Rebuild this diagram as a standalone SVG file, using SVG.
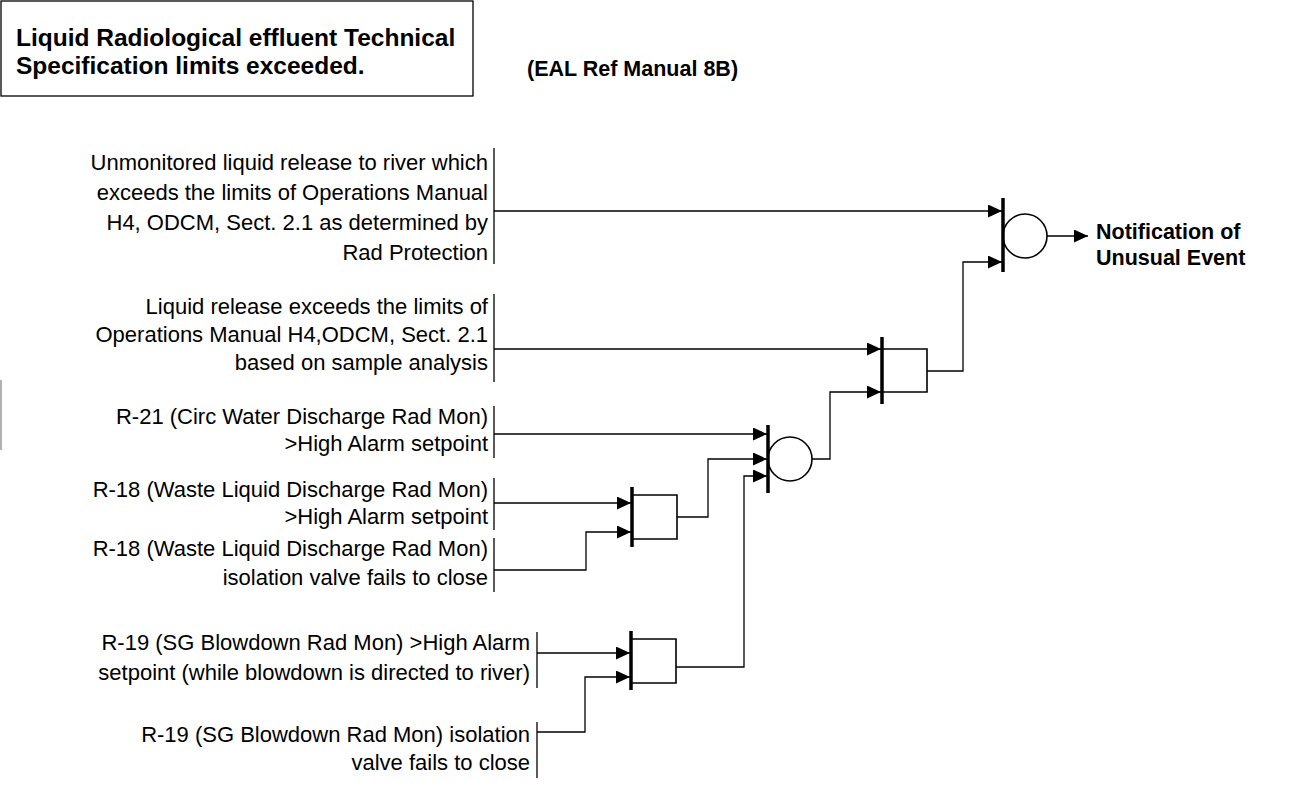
<svg xmlns="http://www.w3.org/2000/svg" width="1299" height="792" viewBox="0 0 1299 792">
<defs>
<style>
text{font-family:"Liberation Sans",Arial,sans-serif;fill:#000}
.t{font-size:22px;text-anchor:end}
.b{font-size:21.5px;font-weight:bold}
.h{font-size:24.5px;font-weight:bold}
.ln{fill:none;stroke:#000;stroke-width:1.3}
.bar{stroke:#000;stroke-width:3.5}
.g{fill:none;stroke:#000;stroke-width:1.6}
.ah{fill:#000}
</style>
<marker id="arr" markerWidth="15" markerHeight="13" refX="14" refY="6.5" orient="auto" markerUnits="userSpaceOnUse"><path d="M0,0 L14,6.5 L0,13 Z" class="ah"/></marker>
</defs>
<rect width="1299" height="792" fill="#fff"/>
<g id="title">
<rect x="1" y="1" width="472" height="95" class="ln"/>
<text class="h" x="16" y="46">Liquid Radiological effluent Technical</text>
<text class="h" x="16" y="74">Specification limits exceeded.</text>
</g>
<g id="ref"><text class="b" x="527" y="76">(EAL Ref Manual 8B)</text></g>
<line x1="1" y1="380" x2="1" y2="450" stroke="#999" stroke-width="1.5"/>
<g id="in1">
<text class="t" x="488" y="170">Unmonitored liquid release to river which</text>
<text class="t" x="488" y="200">exceeds the limits of Operations Manual</text>
<text class="t" x="488" y="230">H4, ODCM, Sect. 2.1 as determined by</text>
<text class="t" x="488" y="260">Rad Protection</text>
<line x1="494" y1="148" x2="494" y2="264" class="ln"/>
</g>
<g id="in2">
<text class="t" x="488" y="314">Liquid release exceeds the limits of</text>
<text class="t" x="488" y="342">Operations Manual H4,ODCM, Sect. 2.1</text>
<text class="t" x="488" y="370">based on sample analysis</text>
<line x1="494" y1="294" x2="494" y2="382" class="ln"/>
</g>
<g id="in3">
<text class="t" x="488" y="424">R-21 (Circ Water Discharge Rad Mon)</text>
<text class="t" x="488" y="451">&gt;High Alarm setpoint</text>
<line x1="494" y1="406" x2="494" y2="458" class="ln"/>
</g>
<g id="in4">
<text class="t" x="488" y="497">R-18 (Waste Liquid Discharge Rad Mon)</text>
<text class="t" x="488" y="524">&gt;High Alarm setpoint</text>
<line x1="494" y1="478" x2="494" y2="530" class="ln"/>
</g>
<g id="in5">
<text class="t" x="488" y="556">R-18 (Waste Liquid Discharge Rad Mon)</text>
<text class="t" x="488" y="585">isolation valve fails to close</text>
<line x1="494" y1="538" x2="494" y2="592" class="ln"/>
</g>
<g id="in6">
<text class="t" x="530" y="650">R-19 (SG Blowdown Rad Mon) &gt;High Alarm</text>
<text class="t" x="530" y="680">setpoint (while blowdown is directed to river)</text>
<line x1="537" y1="632" x2="537" y2="688" class="ln"/>
</g>
<g id="in7">
<text class="t" x="530" y="742">R-19 (SG Blowdown Rad Mon) isolation</text>
<text class="t" x="530" y="770">valve fails to close</text>
<line x1="537" y1="722" x2="537" y2="778" class="ln"/>
</g>
<g id="or-final">
<line x1="1003" y1="198" x2="1003" y2="272" class="bar"/>
<circle cx="1025" cy="236" r="22" class="g"/>
</g>
<g id="and2">
<line x1="882" y1="337" x2="882" y2="404" class="bar"/>
<path d="M882,349 H927 V392 H882" class="g"/>
</g>
<g id="or1">
<line x1="768" y1="425" x2="768" y2="493" class="bar"/>
<circle cx="790" cy="459" r="22" class="g"/>
</g>
<g id="and3">
<line x1="632" y1="487" x2="632" y2="547" class="bar"/>
<path d="M632,495 H677 V539 H632" class="g"/>
</g>
<g id="and4">
<line x1="631" y1="631" x2="631" y2="690" class="bar"/>
<path d="M631,639 H676 V683 H631" class="g"/>
</g>
<g id="out">
<text class="b" x="1096" y="239">Notification of</text>
<text class="b" x="1096" y="265">Unusual Event</text>
</g>
<g id="connectors">
<polyline points="494,211 1002,211" class="ln" marker-end="url(#arr)"/>
<polyline points="927,371 963,371 963,262 1002,262" class="ln" marker-end="url(#arr)"/>
<polyline points="1047,236 1088,236" class="ln" marker-end="url(#arr)"/>
<polyline points="494,349 881,349" class="ln" marker-end="url(#arr)"/>
<polyline points="812,459 830,459 830,392 881,392" class="ln" marker-end="url(#arr)"/>
<polyline points="494,434 767,434" class="ln" marker-end="url(#arr)"/>
<polyline points="677,517 708,517 708,459 767,459" class="ln" marker-end="url(#arr)"/>
<polyline points="676,667 744,667 744,476 767,476" class="ln" marker-end="url(#arr)"/>
<polyline points="494,503 631,503" class="ln" marker-end="url(#arr)"/>
<polyline points="494,570 586,570 586,532 631,532" class="ln" marker-end="url(#arr)"/>
<polyline points="537,653 630,653" class="ln" marker-end="url(#arr)"/>
<polyline points="537,732 585,732 585,677 630,677" class="ln" marker-end="url(#arr)"/>
</g>
</svg>
